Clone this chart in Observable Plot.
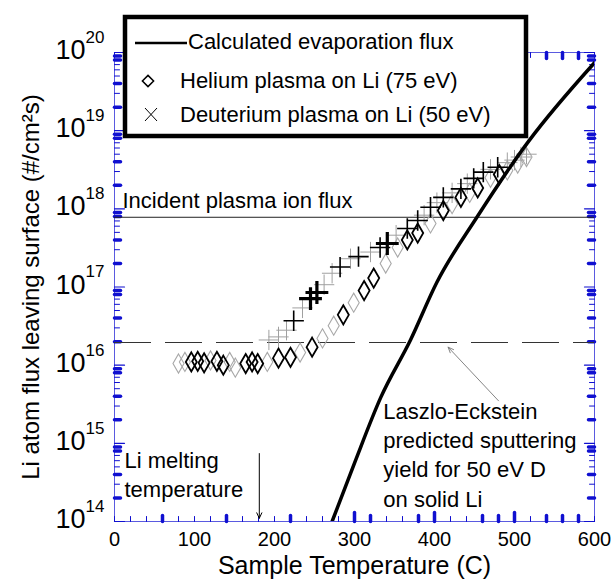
<!DOCTYPE html>
<html><head><meta charset="utf-8">
<script src="https://cdn.jsdelivr.net/npm/d3@7"></script>
<script src="https://cdn.jsdelivr.net/npm/@observablehq/plot@0.6"></script>
<style>
body{margin:0;background:#fff;}
#chart{width:614px;height:586px;}
</style></head><body><div id="chart"></div>
<script>
// ---- data ----
// Calculated evaporation flux (T in C, flux in #/cm^2 s)
const evapT    = [272, 300, 333, 370, 403, 453, 518, 600];
const evapFlux = [1.0e14, 5.6e14, 3.9e15, 2.1e16, 1.15e17, 7.8e17, 7.4e18, 7.4e19];

// Helium plasma on Li (75 eV)  (run: a / b = two measurement runs)
const heT    = [80, 88, 96, 104, 112, 120, 128, 136, 144, 151, 164, 172, 179, 191, 205, 220, 232, 247, 260, 274, 286, 299, 312, 324, 339, 354, 366, 379, 395, 411, 422, 433, 444, 454, 470, 481, 491, 504, 515];
const heFlux = [1.05e16, 1.1e16, 1.1e16, 1.12e16, 1.07e16, 1.15e16, 1.12e16, 1.0e16, 1.1e16, 9.3e15, 1.05e16, 1.1e16, 1.05e16, 1.1e16, 1.23e16, 1.26e16, 1.45e16, 1.7e16, 2.2e16, 3.2e16, 4.4e16, 6.3e16, 9.0e16, 1.3e17, 2.0e17, 3.2e17, 4.0e17, 4.9e17, 6.5e17, 9.5e17, 1.15e18, 1.4e18, 1.6e18, 1.85e18, 2.5e18, 2.75e18, 3.1e18, 3.8e18, 4.6e18];
const heRun  = ["a","a","b","b","b","a","b","b","a","a","b","b","b","a","b","b","a","b","a","a","b","a","b","b","a","a","b","b","a","b","a","b","a","b","a","b","a","a","a"];

// Deuterium plasma on Li (50 eV)  (run: a / b / c)
const dT    = [193, 205, 215, 224, 235, 245, 253, 262, 272, 282, 295, 305, 320, 332, 341, 352, 366, 379, 387, 395, 403, 411, 422, 433, 441, 449, 461, 470, 479, 491, 500, 508, 515];
const dFlux = [2.1e16, 2.3e16, 2.8e16, 3.7e16, 5.4e16, 7.1e16, 8.5e16, 1.07e17, 1.5e17, 1.8e17, 2.3e17, 2.45e17, 2.8e17, 3.2e17, 3.6e17, 4.6e17, 5.6e17, 7.1e17, 8.3e17, 1.05e18, 1.2e18, 1.4e18, 1.6e18, 1.8e18, 2.1e18, 2.45e18, 2.95e18, 3.2e18, 3.4e18, 3.9e18, 4.2e18, 4.6e18, 5.0e18];
const dRun  = ["a","a","a","b","a","c","c","a","a","b","a","b","a","b","c","a","b","b","a","b","a","b","a","b","a","b","b","a","b","a","a","a","a"];

// reference levels
const incidentFlux = [7.8e17];
const sputterFlux  = [1.95e16];
const meltingT     = [181];

// ticks / labels
const xTickLabels = [0, 100, 200, 300, 400, 500, 600];
const yExponents  = [14, 15, 16, 17, 18, 19, 20];
const xBoldTicks  = [60, 140, 220, 320, 380, 460, 480, 540, 560, 580];
const xTallTicks  = [300, 400, 500];

const legendItems = ["Calculated evaporation flux", "Helium plasma on Li (75 eV)", "Deuterium plasma on Li (50 eV)"];
const xTitle = "Sample Temperature (C)";
const yTitle = "Li atom flux leaving surface (#/cm²s)";
const incidentLabel = "Incident plasma ion flux";
const meltLabel = "Li melting\ntemperature";
const sputterLabel = "Laszlo-Eckstein\npredicted sputtering\nyield for 50 eV D\non solid Li";

// ---- build tables ----
const evap = evapT.map((t, i) => ({t, f: evapFlux[i]}));
const he = heT.map((t, i) => ({t, f: heFlux[i], run: heRun[i]}));
const dd = dT.map((t, i) => ({t, f: dFlux[i], run: dRun[i]}));

const xMinor = d3.range(0, 601, 20);
const yMinor = [];
const yBold = [];
for (let k = 14; k < 20; k++) for (let m = 2; m <= 9; m++) {
  yMinor.push(m * 10 ** k);
  if (m === 2 || m === 4 || m === 8 || m === 9) yBold.push(m * 10 ** k);
}
const yDecades = yExponents.map(e => 10 ** e);

const blue = "#1010d0";
const spike = {draw(ctx, l) { ctx.moveTo(0, 0); ctx.lineTo(0, -l); }};
function ticks(data, side, len, sw) {
  const o = {length: len, anchor: "start", shape: spike, stroke: blue, strokeWidth: sw};
  if (side === "bottom") return Plot.vector(data, {...o, x: d => d, y: 1e14, rotate: 0});
  if (side === "top") return Plot.vector(data, {...o, x: d => d, y: 1e20, rotate: 180});
  if (side === "left") return Plot.vector(data, {...o, x: 0, y: d => d, rotate: 90});
  return Plot.vector(data, {...o, x: 600, y: d => d, rotate: -90});
}

const FONT = "'Liberation Sans', Arial, sans-serif";
const chart = Plot.plot({
  width: 614, height: 586,
  marginLeft: 114, marginRight: 20, marginTop: 52, marginBottom: 65,
  style: {fontFamily: FONT, fontSize: "22px", color: "black", background: "white", overflow: "visible"},
  x: {domain: [0, 600], axis: null},
  y: {type: "log", domain: [1e14, 1e20], axis: null},
  marks: [
    Plot.frame({stroke: "#5a5ae0", strokeWidth: 1}),
    // axis ticks
    ticks(xMinor, "bottom", 5, 1), ticks(xBoldTicks, "bottom", 6, 3.5), ticks(xTallTicks, "bottom", 9, 3.5),
    ticks(xMinor, "top", 5, 1), ticks(xBoldTicks, "top", 6, 3.5), ticks(xTallTicks, "top", 9, 3.5),
    ticks(yMinor, "left", 5, 1), ticks(yBold, "left", 6, 3.5), ticks(yDecades, "left", 10, 1.2),
    ticks(yMinor, "right", 5, 1), ticks(yBold, "right", 6, 3.5), ticks(yDecades, "right", 10, 1.2),
    // tick labels
    Plot.axisX(xTickLabels, {anchor: "bottom", tickSize: 0, tickPadding: 10, fontSize: 20, label: null, tickFormat: d => String(d)}),
    Plot.text(yExponents, {x: 0, y: d => 10 ** d, text: () => "10", textAnchor: "end", dx: -29, dy: -2, fontSize: 27}),
    Plot.text(yExponents, {x: 0, y: d => 10 ** d, text: d => String(d), textAnchor: "start", dx: -29, dy: -15, fontSize: 17}),
    // titles
    Plot.text([xTitle], {frameAnchor: "bottom", dy: 52, fontSize: 25}),
    Plot.text([yTitle], {frameAnchor: "left", textAnchor: "middle", rotate: -90, dx: -83, fontSize: 24}),
    // reference lines
    Plot.ruleY(incidentFlux, {stroke: "#222", strokeWidth: 1}),
    Plot.text(incidentFlux, {x: 0, y: d => d, text: () => incidentLabel, textAnchor: "start", dx: 8, dy: -16, fontSize: 22}),
    Plot.ruleY(sputterFlux, {stroke: "#333", strokeWidth: 1.2, strokeDasharray: "37,14"}),
    // data
    Plot.dot(he.filter(d => d.run === "a"), {x: "t", y: "f", symbol: "diamond", r: 5.8, stroke: "#a8a8a8", strokeWidth: 1.1, fill: "none"}),
    Plot.dot(dd.filter(d => d.run === "a"), {x: "t", y: "f", symbol: "plus", r: 6.6, stroke: "#a0a0a0", strokeWidth: 1, fill: "none"}),
    Plot.dot(he.filter(d => d.run === "b"), {x: "t", y: "f", symbol: "diamond", r: 5.8, stroke: "#000", strokeWidth: 1.8, fill: "none"}),
    Plot.dot(dd.filter(d => d.run === "b"), {x: "t", y: "f", symbol: "plus", r: 6.6, stroke: "#000", strokeWidth: 1.6, fill: "none"}),
    Plot.dot(dd.filter(d => d.run === "c"), {x: "t", y: "f", symbol: "plus", r: 7.4, stroke: "#000", strokeWidth: 3.2, fill: "none"}),
    Plot.line(evap, {x: "t", y: "f", stroke: "#000", strokeWidth: 3.5, curve: "monotone-x", clip: true}),
    // annotations
    Plot.arrow(meltingT, {x1: d => d, x2: d => d, y1: 7.4e14, y2: 1.1e14, stroke: "#000", strokeWidth: 1, headLength: 9, headAngle: 50}),
    Plot.text([meltLabel], {x: 0, y: 4.13e14, textAnchor: "start", dx: 10, fontSize: 22, lineHeight: 1.3}),
    Plot.arrow([0], {x1: 480, y1: 3.5e15, x2: 417, y2: 1.7e16, stroke: "#777", strokeWidth: 0.9, headLength: 10, headAngle: 45}),
    Plot.text([sputterLabel], {x: 336, y: 7.45e14, textAnchor: "start", fontSize: 22, lineHeight: 1.33})
  ]
});
document.getElementById("chart").appendChild(chart);

// ---- legend box (drawn over the top of the frame) ----
const svg = d3.select(chart);
const g = svg.append("g").attr("font-family", FONT).attr("font-size", 22).attr("text-anchor", "start");
g.append("rect").attr("x", 125).attr("y", 17).attr("width", 401).attr("height", 119)
  .attr("fill", "white").attr("stroke", "black").attr("stroke-width", 4.5);
g.append("line").attr("x1", 135).attr("x2", 187).attr("y1", 43).attr("y2", 43).attr("stroke", "black").attr("stroke-width", 2.5);
g.append("path").attr("d", d3.symbol(d3.symbolDiamond2, 80)()).attr("transform", "translate(148,81)")
  .attr("fill", "none").attr("stroke", "black").attr("stroke-width", 1.5);
g.append("path").attr("d", "M145,108L157,121M145,121L157,108").attr("stroke", "black").attr("stroke-width", 1);
const ly = [41, 80, 114], lx = [188, 180, 180];
legendItems.forEach((t, i) => {
  g.append("text").attr("x", lx[i]).attr("y", ly[i]).attr("dy", "0.35em").attr("text-anchor", "start").text(t);
});
</script></body></html>
